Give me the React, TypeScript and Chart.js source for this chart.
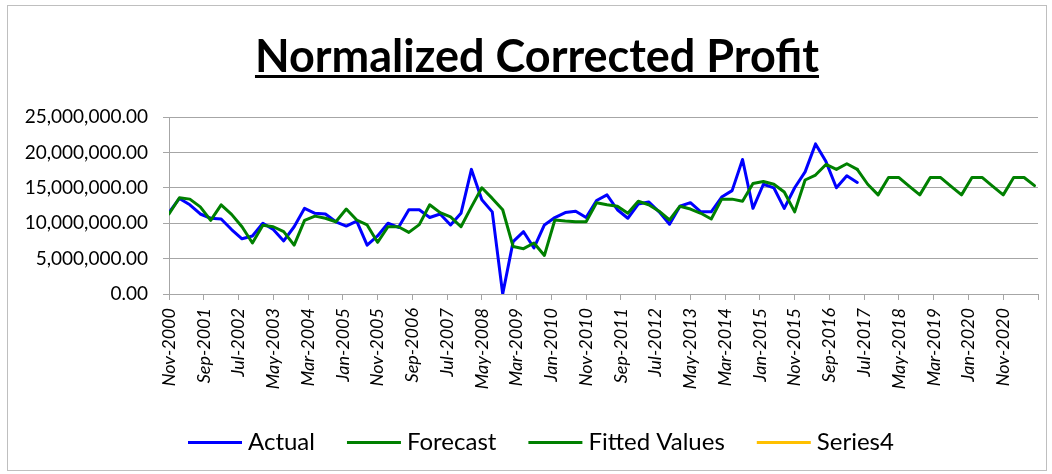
import React, { useEffect, useRef } from "react";
import { Chart, registerables } from "chart.js";

Chart.register(...registerables);

// ---------- data ----------
const TITLE = "Normalized Corrected Profit";
const START_YEAR = 2000;
const START_MONTH = 10; // November (0-based)
const MONTH_NAMES = ["Jan", "Feb", "Mar", "Apr", "May", "Jun", "Jul", "Aug", "Sep", "Oct", "Nov", "Dec"];
const MONTHS_PER_PERIOD = 3; // quarterly observations
const AXIS_MAX_MONTHS = 250;
const TICK_STEP_MONTHS = 10;

const SERIES_NAMES = ["Actual", "Forecast", "Fitted Values", "Series4"];
const SERIES_COLORS = ["#0000FF", "#008000", "#008000", "#FFC000"];

// values in millions
const ACTUAL = [
  11.5, 13.5, 12.6, 11.3, 10.7, 10.6, 9.1, 7.8, 8.2, 10.0,
  9.1, 7.5, 9.5, 12.1, 11.4, 11.3, 10.2, 9.6, 10.3, 6.9,
  8.2, 10.0, 9.4, 11.9, 11.9, 10.8, 11.3, 9.75, 11.4, 17.6,
  13.3, 11.6, 0.0, 7.4, 8.8, 6.5, 9.75, 10.8, 11.5, 11.7,
  10.8, 13.2, 14.0, 11.9, 10.7, 12.7, 13.0, 11.6, 9.85, 12.4,
  12.9, 11.6, 11.6, 13.7, 14.6, 19.0, 12.1, 15.5, 15.0, 12.1,
  15.0, 17.25, 21.2, 18.7, 15.0, 16.7, 15.75,
];

const FITTED = [
  11.3, 13.6, 13.4, 12.3, 10.4, 12.6, 11.25, 9.5, 7.2, 9.7,
  9.5, 8.8, 6.9, 10.4, 11.0, 10.7, 10.2, 12.0, 10.45, 9.75,
  7.3, 9.5, 9.5, 8.7, 9.8, 12.6, 11.5, 10.9, 9.5, 12.3,
  15.0, 13.5, 11.9, 6.7, 6.4, 7.2, 5.45, 10.45, 10.3, 10.2,
  10.2, 12.9, 12.6, 12.4, 11.4, 13.1, 12.6, 11.7, 10.45, 12.4,
  12.0, 11.4, 10.6, 13.4, 13.4, 13.1, 15.6, 15.9, 15.5, 14.4,
  11.6, 16.1, 16.8, 18.3, 17.6, 18.4, 17.6,
];

const FORECAST_START_PERIOD = 66;
const FORECAST = [
  17.6, 15.5, 14.0, 16.45, 16.45, 15.2, 14.0, 16.45, 16.45, 15.2,
  14.0, 16.45, 16.45, 15.2, 14.0, 16.45, 16.45, 15.3,
];

const SERIES4: number[] = [];

const Y_MIN = 0;
const Y_MAX = 25000000;
const Y_STEP = 5000000;
const UNIT = 1000000;

// ---------- helpers ----------
const monthLabel = (m: number) => {
  const total = START_YEAR * 12 + START_MONTH + m;
  return `${MONTH_NAMES[total % 12]}-${Math.floor(total / 12)}`;
};

const toPoints = (vals: number[], startPeriod = 0) =>
  vals.map((v, i) => ({ x: (startPeriod + i) * MONTHS_PER_PERIOD, y: v * UNIT }));

const FONT = "Lato";

const titlePlugin = {
  id: "underlinedTitle",
  afterDraw(chart: any) {
    const ctx = chart.ctx as CanvasRenderingContext2D;
    ctx.save();
    ctx.font = `bold 45px ${FONT}`;
    ctx.fillStyle = "#000";
    ctx.textAlign = "center";
    ctx.textBaseline = "alphabetic";
    const cx = 537;
    const by = 72;
    ctx.fillText(TITLE, cx, by);
    const w = ctx.measureText(TITLE).width;
    ctx.fillRect(cx - w / 2, by + 3, w, 3);
    ctx.restore();
  },
};

const legendPlugin = {
  id: "lineLegend",
  afterDraw(chart: any) {
    const ctx = chart.ctx as CanvasRenderingContext2D;
    ctx.save();
    ctx.font = `24px ${FONT}`;
    ctx.textBaseline = "middle";
    ctx.textAlign = "left";
    const cy = 441;
    let x = 188;
    SERIES_NAMES.forEach((name, i) => {
      ctx.fillStyle = SERIES_COLORS[i];
      ctx.fillRect(x, cy, 54, 3);
      x += 54 + 6;
      ctx.fillStyle = "#000";
      ctx.fillText(name, x, cy + 1);
      x += ctx.measureText(name).width + 32;
    });
    ctx.restore();
  },
};

export default function App() {
  const canvasRef = useRef<HTMLCanvasElement | null>(null);

  useEffect(() => {
    document.body.style.margin = "0";
    let chart: Chart | null = null;
    let cancelled = false;
    const make = () => {
      if (cancelled || !canvasRef.current) return;
      const datasets = [
        { data: toPoints(ACTUAL), order: 3 },
        { data: toPoints(FORECAST, FORECAST_START_PERIOD), order: 2 },
        { data: toPoints(FITTED), order: 1 },
        { data: toPoints(SERIES4), order: 4 },
      ].map((d, i) => ({
        label: SERIES_NAMES[i],
        data: d.data,
        order: d.order,
        borderColor: SERIES_COLORS[i],
        backgroundColor: SERIES_COLORS[i],
        borderWidth: 3,
        pointRadius: 0,
        tension: 0,
        fill: false,
        borderJoinStyle: "round" as const,
        borderCapStyle: "round" as const,
      }));

      chart = new Chart(canvasRef.current, {
        type: "line",
        data: { datasets },
        plugins: [titlePlugin, legendPlugin],
        options: {
          animation: false,
          responsive: false,
          maintainAspectRatio: false,
          layout: { padding: { left: 0, right: 14, top: 117, bottom: 76 } },
          plugins: {
            title: { display: false },
            tooltip: { enabled: false },
            legend: { display: false },
          },
          scales: {
            x: {
              type: "linear",
              min: 0,
              max: AXIS_MAX_MONTHS,
              afterFit: (s: any) => {
                s.height = 104;
                s.paddingLeft = 0;
                s.paddingRight = 0;
              },
              grid: {
                drawOnChartArea: false,
                drawTicks: true,
                tickLength: 6,
                color: "#a6a6a6",
              },
              border: { color: "#a6a6a6", width: 1 },
              ticks: {
                stepSize: TICK_STEP_MONTHS,
                autoSkip: false,
                minRotation: 90,
                maxRotation: 90,
                padding: 8,
                color: "#000",
                font: { family: FONT, size: 18, style: "italic" },
                callback: (v: any) => (Number(v) >= AXIS_MAX_MONTHS ? "" : monthLabel(Number(v))),
              },
            },
            y: {
              min: Y_MIN,
              max: Y_MAX,
              afterFit: (s: any) => {
                s.width = 169;
                s.paddingTop = 0;
                s.paddingBottom = 0;
              },
              grid: { color: "#a6a6a6", tickLength: 6 },
              border: { color: "#a6a6a6", width: 1 },
              ticks: {
                stepSize: Y_STEP,
                padding: 15,
                color: "#000",
                font: { family: FONT, size: 19 },
                callback: (v: any) =>
                  Number(v).toLocaleString("en-US", { minimumFractionDigits: 2, maximumFractionDigits: 2 }),
              },
            },
          },
        },
      });
    };
    const fonts = (document as any).fonts;
    if (fonts && fonts.load) {
      Promise.all([
        fonts.load(`bold 45px ${FONT}`),
        fonts.load(`italic 18px ${FONT}`),
        fonts.load(`19px ${FONT}`),
      ])
        .catch(() => {})
        .then(make);
    } else {
      make();
    }
    return () => {
      cancelled = true;
      if (chart) chart.destroy();
    };
  }, []);

  return (
    <div style={{ position: "relative", width: 1052, height: 474, background: "#fff" }}>
      <div
        style={{
          position: "absolute",
          left: 7,
          top: 5,
          width: 1040,
          height: 466,
          border: "1px solid #bfbfbf",
          boxSizing: "border-box",
        }}
      />
      <canvas ref={canvasRef} width={1052} height={474} style={{ position: "absolute", left: 0, top: 0 }} />
    </div>
  );
}
